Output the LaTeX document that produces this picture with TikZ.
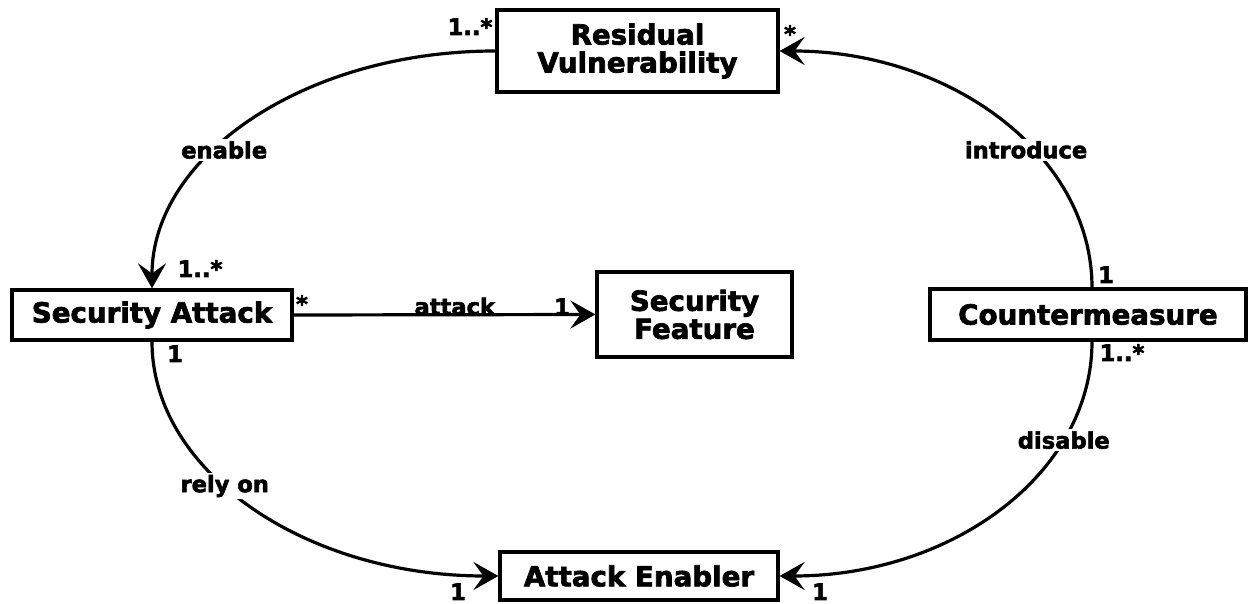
\documentclass[tikz,border=0pt]{standalone}
\usepackage{fontspec}
\setmainfont{DejaVu Sans}[BoldFeatures={FakeBold=2.5}]
\usetikzlibrary{arrows.meta}

\begin{document}
\begin{tikzpicture}[x=0.5pt,y=-0.5pt,
  box/.style={draw,line width=1.6pt,rectangle,inner sep=0pt,align=center,font=\fontsize{13.85}{14}\selectfont\bfseries},
  lbl/.style={font=\fontsize{11.3}{12}\selectfont\bfseries,fill=white,inner sep=1pt},
  mult/.style={font=\fontsize{11.3}{12}\selectfont\bfseries,inner sep=0pt,anchor=base},
  conn/.style={line width=1.6pt,-{Stealth[length=12.5pt,width=14pt,inset=5pt]}}]
\useasboundingbox (0,0) rectangle (1250,604);

% Classes
\node[box,minimum width=140.5pt,minimum height=41pt] (rv) at (637.5,51) {Residual\\Vulnerability};
\node[box,minimum width=140pt,minimum height=25pt] (sa) at (152,315) {Security Attack};
\node[box,minimum width=97.5pt,minimum height=42.5pt] (sf) at (694.5,314.5) {Security\\Feature};
\node[box,minimum width=158pt,minimum height=25.5pt] (cm) at (1088,314.5) {Countermeasure};
\node[box,minimum width=139pt,minimum height=24pt] (ae) at (639,576) {Attack Enabler};

% Associations
\draw[conn] (rv.west) .. controls +(-191,0) and +(0,-132) .. (sa.north)
  node[lbl,pos=0.58,yshift=-4pt] (enable) {enable};
\draw[conn] ([xshift=2pt]cm.north) .. controls +(0,-131) and +(173,0) .. (rv.east)
  node[lbl,pos=0.42,yshift=-4pt] (introduce) {introduce};
\draw[conn] (sa.south) .. controls +(0,130) and +(-193,0) .. (ae.west)
  node[lbl,pos=0.42] (relyon) {rely on};
\draw[conn] ([xshift=2pt]cm.south) .. controls +(0,131) and +(174,0) .. (ae.east)
  node[lbl,pos=0.27] (disable) {disable};
\draw[conn] (sa.east) -- (sf.west)
  node[mult,pos=0.534] (attack) {attack};

% Multiplicities
\node[mult] (m-rv-in) at (470,35) {1..*};
\node[mult] (m-rv-out) at (790,42) {*};
\node[mult] (m-sa-in) at (200,277) {1..*};
\node[mult] (m-sa-out) at (302,312) {*};
\node[mult] (m-sa-dep) at (175,362) {1};
\node[mult] (m-sf) at (562,315) {1};
\node[mult] (m-cm-in) at (1106,283) {1};
\node[mult] (m-cm-out) at (1122,361) {1..*};
\node[mult] (m-ae-l) at (458,600) {1};
\node[mult] (m-ae-r) at (820,600) {1};
\end{tikzpicture}
\end{document}
